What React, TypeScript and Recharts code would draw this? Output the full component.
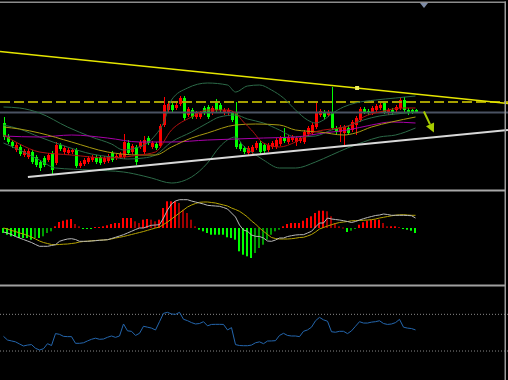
import React from 'react';
import { ComposedChart, Bar, Line, XAxis, YAxis, ReferenceLine, ReferenceDot } from 'recharts';

// ---------- candles (price units) ----------
const candleOpen = [67,53,48,40,43,35,33,38,33,28, 32,30,37,27,45,38,37,38,40,24, 26,28,30,33,33,28,29,37,32,33, 33,47,38,43,43,38,52,43,46,44, 65,80,85,82,86,92,75,80,73,73, 82,83,77,89,85,77,77,77,78,46, 42,37,38,42,47,45,40,43,43,46, 53,48,50,48,49,48,56,57,63,75, 78,75,77,62,58,57,62,60,65,70, 81,79,77,80,82,87,77,80,80,82, 90,80,80,80];
const candleClose = [53,48,44,45,36,39,39,28,25,22, 25,35,20,45,41,42,40,40,24,27, 30,32,33,28,27,32,34,30,34,36, 48,37,44,28,48,50,47,47,42,64, 85,86,80,85,92,72,81,73,77,77, 77,73,82,80,80,80,80,70,43,41, 38,42,43,47,38,39,45,47,50,52, 49,53,53,52,52,58,62,65,77,79, 73,78,62,58,63,63,57,68,72,81, 78,77,82,84,85,78,80,77,83,90, 80,77,78,78];
const candleHigh = [73,56,50,47,45,41,41,40,35,30, 34,37,39,48,47,44,42,41,42,29, 32,34,35,35,35,34,36,39,36,38, 56,50,46,45,50,54,54,49,48,66, 93,89,87,87,94,94,83,82,79,79, 84,85,84,91,87,82,82,79,88,48, 44,44,45,49,49,47,47,49,52,54, 62,55,55,54,54,60,64,67,87,81, 80,80,103,64,65,65,64,70,74,83, 83,81,84,86,87,89,82,82,85,92, 93,82,81,81];
const candleLow = [50,46,42,38,34,33,31,26,23,19, 23,28,15,25,39,36,35,36,22,22, 24,26,28,26,25,26,27,28,30,31, 31,35,36,25,41,36,45,41,40,42, 63,78,78,80,84,70,73,71,71,71, 75,71,75,78,78,75,75,68,41,39, 36,35,36,40,36,37,38,41,41,44, 47,46,48,44,47,46,54,55,61,73, 71,73,60,56,48,45,55,58,55,68, 76,75,75,78,80,76,75,75,78,80, 78,75,76,77];

// ---------- overlays read at sample bars: [barIndex, value] ----------
const bbUpper: [number, number][] = [[0,83],[4,82],[9,77],[16,63],[22,53],[27,46],[30,40],[33,42],[36,47],[38,55],[40,67],[42,90],[46,102],[51,107],[56,105],[58,98],[61,104],[64,105],[67,100],[70,92],[73,80],[76,70],[78,67],[80,70],[82,76],[85,83],[88,87],[93,90],[98,92],[103,94]];
const bbMiddle: [number, number][] = [[0,65],[4,61],[9,53],[16,43],[22,36],[27,33],[31,31],[35,32],[38,35],[42,48],[47,58],[51,67],[54,73],[58,75],[61,71],[65,67],[69,60],[73,53],[78,54],[82,60],[86,64],[90,70],[94,74],[98,76],[103,78]];
const bbLower: [number, number][] = [[0,47],[4,40],[9,30],[13,22],[22,20],[30,18],[35,14],[37,12],[42,7],[47,13],[51,27],[54,43],[58,53],[60,44],[62,38],[65,30],[69,22],[73,22],[78,28],[82,35],[86,42],[90,48],[94,53],[98,55],[103,62]];
const fastMA: [number, number][] = [[0,55],[4,46],[9,38],[17,35],[26,32],[34,35],[38,38],[42,60],[47,73],[51,80],[56,80],[58,77],[60,68],[62,60],[65,47],[69,43],[73,48],[77,57],[80,60],[84,62],[87,65],[90,73],[94,78],[100,82],[103,82]];
const midMA: [number, number][] = [[0,63],[4,61],[9,57],[17,48],[26,38],[34,35],[38,35],[42,43],[47,52],[51,57],[58,65],[63,66],[69,65],[73,60],[79,58],[85,55],[88,57],[92,63],[97,68],[103,73]];
const slowMA: [number, number][] = [[0,54],[9,53],[17,55],[26,52],[34,48],[42,48],[51,50],[58,51],[65,52],[73,53],[80,57],[86,60],[92,65],[97,68],[103,67]];

// ---------- annotations ----------
const resistanceLine = [{ i: -0.875, p: 138.5 }, { i: 126.125, p: 86.4 }];
const supportLine = [{ i: 6.1, p: 13 }, { i: 126.125, p: 60 }];
const dashedLevel = 88;
const currentPrice = 77.5;
const touchPoint = { i: 88.4, p: 102 };
const arrowLine = [{ i: 105.1, p: 78.5 }, { i: 107.6, p: 57.5 }];

// ---------- MACD ----------
const macdHist = [-5,-6.7,-8.3,-8.3,-10,-10,-10,-11.7,-10,-10, -8.3,-5,-3.3,1.7,6,7.3,8.3,9,4,1.7, -1,-1,-1,1,1,1.7,2.7,4,5,5, 10,10,10,6.7,5,8.3,9,8.3,6.7,8.3, 20,26.7,26.7,26.7,25,18.3,15,8.3,1.7,-1.7, -3.3,-5,-6.7,-6.7,-6.7,-6.7,-9.3,-10,-11.7,-23.3, -26.7,-28.3,-30,-25,-20,-16.7,-11.7,-6.7,-3.3,-1.7, 1.7,4,5,5,5,7.3,10,11.7,15,17.3, 17.3,16.7,11.7,5,1.7,0.5,-4,-2.7,-1,3.3, 5.7,7.3,8.3,8.3,8.3,5,1.7,1.7,1.7,1, -0.7,-1.7,-2.7,-5];
const macdMain = [-4,-5,-6.5,-8.5,-10,-11.5,-13,-14.5,-16.5,-18.3, -18.3,-18.3,-17.5,-16.7,-13.3,-12,-11,-10.7,-11.5,-13.3, -13.3,-13.3,-13,-12.7,-12.3,-12,-11.7,-10.5,-9.3,-8, -6.7,-5,-3.3,-1.5,0,0,1.5,2.7,3,3.3, 10,18,24,27,28.3,28.3,28.3,27,26,25, 24,22.7,22.3,22,21.7,20.5,19,15,11,3, -2,-3.3,-7,-8.3,-8.5,-10,-13,-13.3,-12,-10, -10,-8.5,-7.7,-7,-6.7,-6.7,-5,-3.3,1,5, 5,10,9,8.5,8,7.3,6.5,5.5,6.5,8, 9.3,10.5,11.5,12.5,13,14,13.5,12.7,12.7,12.7, 12.7,12.5,12.3,10];
const macdSignal = [0,-1,-2.5,-3.5,-5,-6,-7.5,-9,-11,-13, -14.5,-15.5,-16.5,-16.7,-16.5,-16.2,-16,-15.5,-15,-14, -13.5,-13.2,-12.8,-12.5,-12.2,-12,-11.7,-11,-10,-9.3, -8.5,-7.5,-6.5,-5.5,-4.5,-3.5,-2.3,-1.2,0,1, 3.5,6,9,12,15,18,21,23,24.5,25.7, 26,26,25.5,25,24,23,22,20,18.5,16.7, 14,11,7,4,0,-3.3,-6.5,-9.5,-10.5,-11, -11,-11,-10.7,-10.2,-9.5,-9.3,-8,-6.5,-4,-1, 0.5,2,3.3,4.5,5.5,6,6.5,7.2,7.4,7.6, 7.7,8,8.3,9,10,10.7,11.5,12.2,12.8,13.2, 13.3,13,12.7,12.7];

// ---------- RSI ----------
const rsiValues = [46,42,41,40,37.7,35.5,36.5,37,33,31.1, 32.5,38,36,49,48.2,46,45.7,45.7,38.4,38.4, 39,41,42.8,44,42.8,43.1,45,46.4,44.9,46.4, 59.5,52,51.5,47,49.3,57,56,55,52.9,62, 71.1,72.2,70.4,70,72.2,64.6,63.1,61,59.5,60, 62,57.5,59,59.1,59.1,59,53,55.5,37,36, 35.8,35.8,36.5,39,40,38,40.9,41,41.3,47, 49.3,47,46.4,46.4,45.7,51.5,53,56,63,66.7, 64,62.5,51,50.5,51.5,51.5,49,52,57,62, 60.5,60.5,61.5,62,63,60,59,59.5,61,64.5, 56,55,54.5,53];
const rsiLevels = [70, 30];

// ---------- build tables ----------
const X_DOMAIN: [number, number] = [-0.875, 126.125];
const lookup = (pts: [number, number][]) => {
  const m = new Map(pts);
  return (i: number) => (m.has(i) ? (m.get(i) as number) : null);
};
const fU = lookup(bbUpper), fM = lookup(bbMiddle), fL = lookup(bbLower);
const fF = lookup(fastMA), fMi = lookup(midMA), fS = lookup(slowMA);

const mainRows = candleOpen.map((o, i) => ({
  i,
  open: o,
  close: candleClose[i],
  high: candleHigh[i],
  low: candleLow[i],
  range: [candleLow[i], candleHigh[i]],
  bbU: fU(i), bbM: fM(i), bbL: fL(i),
  fast: fF(i), mid: fMi(i), slow: fS(i),
}));

const macdRows = macdHist.map((h, i) => {
  const prev = i > 0 ? macdHist[i - 1] : h;
  let color: string;
  if (h >= 0) color = h >= prev ? '#ff0000' : '#a00000';
  else color = h <= prev ? '#00ff00' : '#009a00';
  return { i, hist: h, macd: macdMain[i], signal: macdSignal[i], color };
});

const rsiRows = rsiValues.map((v, i) => ({ i, rsi: v }));

// ---------- shapes ----------
const Candle = (props: any) => {
  const { x, y, width, height, payload } = props;
  if (!payload) return null;
  const { open, close, high, low } = payload;
  const top0 = Math.min(y, y + height);
  const h = Math.abs(height);
  const span = high - low || 1;
  const py = (v: number) => top0 + ((high - v) / span) * h;
  const cx = Math.floor(x + width / 2) + 0.5;
  const up = close >= open;
  const color = up ? '#ff0000' : '#00ff00';
  const bt = py(Math.max(open, close));
  const bb = py(Math.min(open, close));
  return (
    <g>
      <line x1={cx} x2={cx} y1={top0} y2={top0 + h} stroke={color} strokeWidth={1} />
      <rect x={cx - 1.5} y={bt} width={3} height={Math.max(1, bb - bt)} fill={color} />
    </g>
  );
};

const HistBar = (props: any) => {
  const { x, y, width, height, payload } = props;
  if (!payload) return null;
  const top = Math.min(y, y + height);
  const h = Math.max(1, Math.abs(height));
  const cx = Math.floor(x + width / 2);
  return <rect x={cx - 1} y={top} width={2} height={h} fill={payload.color} />;
};

const ArrowShape = (props: any) => {
  const { x1, y1, x2, y2 } = props;
  if ([x1, y1, x2, y2].some((v) => typeof v !== 'number')) return null;
  const ang = Math.atan2(y2 - y1, x2 - x1);
  const hl = 9, hw = 4.5;
  const bx = x2 - hl * Math.cos(ang), by = y2 - hl * Math.sin(ang);
  const px = -Math.sin(ang) * hw, pyy = Math.cos(ang) * hw;
  return (
    <g>
      <line x1={x1} y1={y1} x2={bx} y2={by} stroke="#a8cc00" strokeWidth={2} />
      <polygon points={`${x2},${y2} ${bx + px},${by + pyy} ${bx - px},${by - pyy}`} fill="#a8cc00" />
    </g>
  );
};

const SquareDot = (props: any) => {
  const { cx, cy } = props;
  if (typeof cx !== 'number') return null;
  return <rect x={cx - 2} y={cy - 2} width={4} height={4} fill="#f0f060" />;
};

const M = { top: 0, right: 0, bottom: 0, left: 0 };
const lineCommon = { dot: false, activeDot: false, isAnimationActive: false, strokeWidth: 1 } as const;

export default function App() {
  return (
    <div style={{ position: 'fixed', left: 0, top: 0, width: 508, height: 380, background: '#000', overflow: 'hidden' }}>
      <div style={{ position: 'absolute', left: 0, top: 0 }}>
        <ComposedChart width={508} height={190} data={mainRows} margin={M}>
          <XAxis type="number" dataKey="i" domain={X_DOMAIN} hide allowDataOverflow />
          <YAxis type="number" domain={[0, 190]} hide allowDataOverflow />
          <ReferenceLine y={currentPrice} stroke="#4a5262" strokeWidth={2} ifOverflow="visible" />
          <ReferenceLine y={dashedLevel} stroke="#a6a000" strokeWidth={2} strokeDasharray="10 4" ifOverflow="visible" />
          <Line dataKey="bbU" type="monotone" stroke="#2c6a48" connectNulls {...lineCommon} />
          <Line dataKey="bbM" type="monotone" stroke="#2c6a48" connectNulls {...lineCommon} />
          <Line dataKey="bbL" type="monotone" stroke="#2c6a48" connectNulls {...lineCommon} />
          <Line dataKey="slow" type="monotone" stroke="#a800a8" connectNulls {...lineCommon} />
          <Line dataKey="mid" type="monotone" stroke="#a89a10" connectNulls {...lineCommon} />
          <Line dataKey="fast" type="monotone" stroke="#b01010" connectNulls {...lineCommon} />
          <Bar dataKey="range" barSize={3} shape={(p: any) => <Candle {...p} />} activeBar={false} isAnimationActive={false} />
          <ReferenceLine segment={[{ x: resistanceLine[0].i, y: resistanceLine[0].p }, { x: resistanceLine[1].i, y: resistanceLine[1].p }]} stroke="#e6e600" strokeWidth={1.5} ifOverflow="visible" />
          <ReferenceLine segment={[{ x: supportLine[0].i, y: supportLine[0].p }, { x: supportLine[1].i, y: supportLine[1].p }]} stroke="#d8d8d8" strokeWidth={2} ifOverflow="visible" />
          <ReferenceDot x={touchPoint.i} y={touchPoint.p} r={2} shape={(p: any) => <SquareDot {...p} />} ifOverflow="visible" />
          <ReferenceLine segment={[{ x: arrowLine[0].i, y: arrowLine[0].p }, { x: arrowLine[1].i, y: arrowLine[1].p }]} shape={(p: any) => <ArrowShape {...p} />} ifOverflow="visible" />
        </ComposedChart>
      </div>
      <div style={{ position: 'absolute', left: 0, top: 190 }}>
        <ComposedChart width={508} height={95} data={macdRows} margin={M}>
          <XAxis type="number" dataKey="i" domain={X_DOMAIN} hide allowDataOverflow />
          <YAxis type="number" domain={[-57, 38]} hide allowDataOverflow />
          <Bar dataKey="hist" barSize={2} shape={(p: any) => <HistBar {...p} />} activeBar={false} isAnimationActive={false} />
          <Line dataKey="signal" type="linear" stroke="#b4a200" {...lineCommon} />
          <Line dataKey="macd" type="linear" stroke="#b8b8b8" {...lineCommon} />
        </ComposedChart>
      </div>
      <div style={{ position: 'absolute', left: 0, top: 285 }}>
        <ComposedChart width={508} height={95} data={rsiRows} margin={M}>
          <XAxis type="number" dataKey="i" domain={X_DOMAIN} hide allowDataOverflow />
          <YAxis type="number" domain={[-1.6, 102]} hide allowDataOverflow />
          {rsiLevels.map((lv) => (
            <ReferenceLine key={lv} y={lv} stroke="#8a8a8a" strokeWidth={1} strokeDasharray="1 2" ifOverflow="visible" />
          ))}
          <Line dataKey="rsi" type="linear" stroke="#2466ad" {...lineCommon} />
        </ComposedChart>
      </div>
      <svg width={508} height={380} style={{ position: 'absolute', left: 0, top: 0, pointerEvents: 'none' }}>
        <rect x={0} y={1.5} width={506} height={1.5} fill="#8c8c8c" />
        <rect x={504.5} y={1.5} width={1.5} height={379} fill="#9a9a9a" />
        <rect x={0} y={189.5} width={505} height={2} fill="#a8a8a8" />
        <rect x={0} y={284.5} width={505} height={2} fill="#a0a0a0" />
        <polygon points="420,3 428,3 424,8" fill="#7e8ca6" />
      </svg>
    </div>
  );
}
